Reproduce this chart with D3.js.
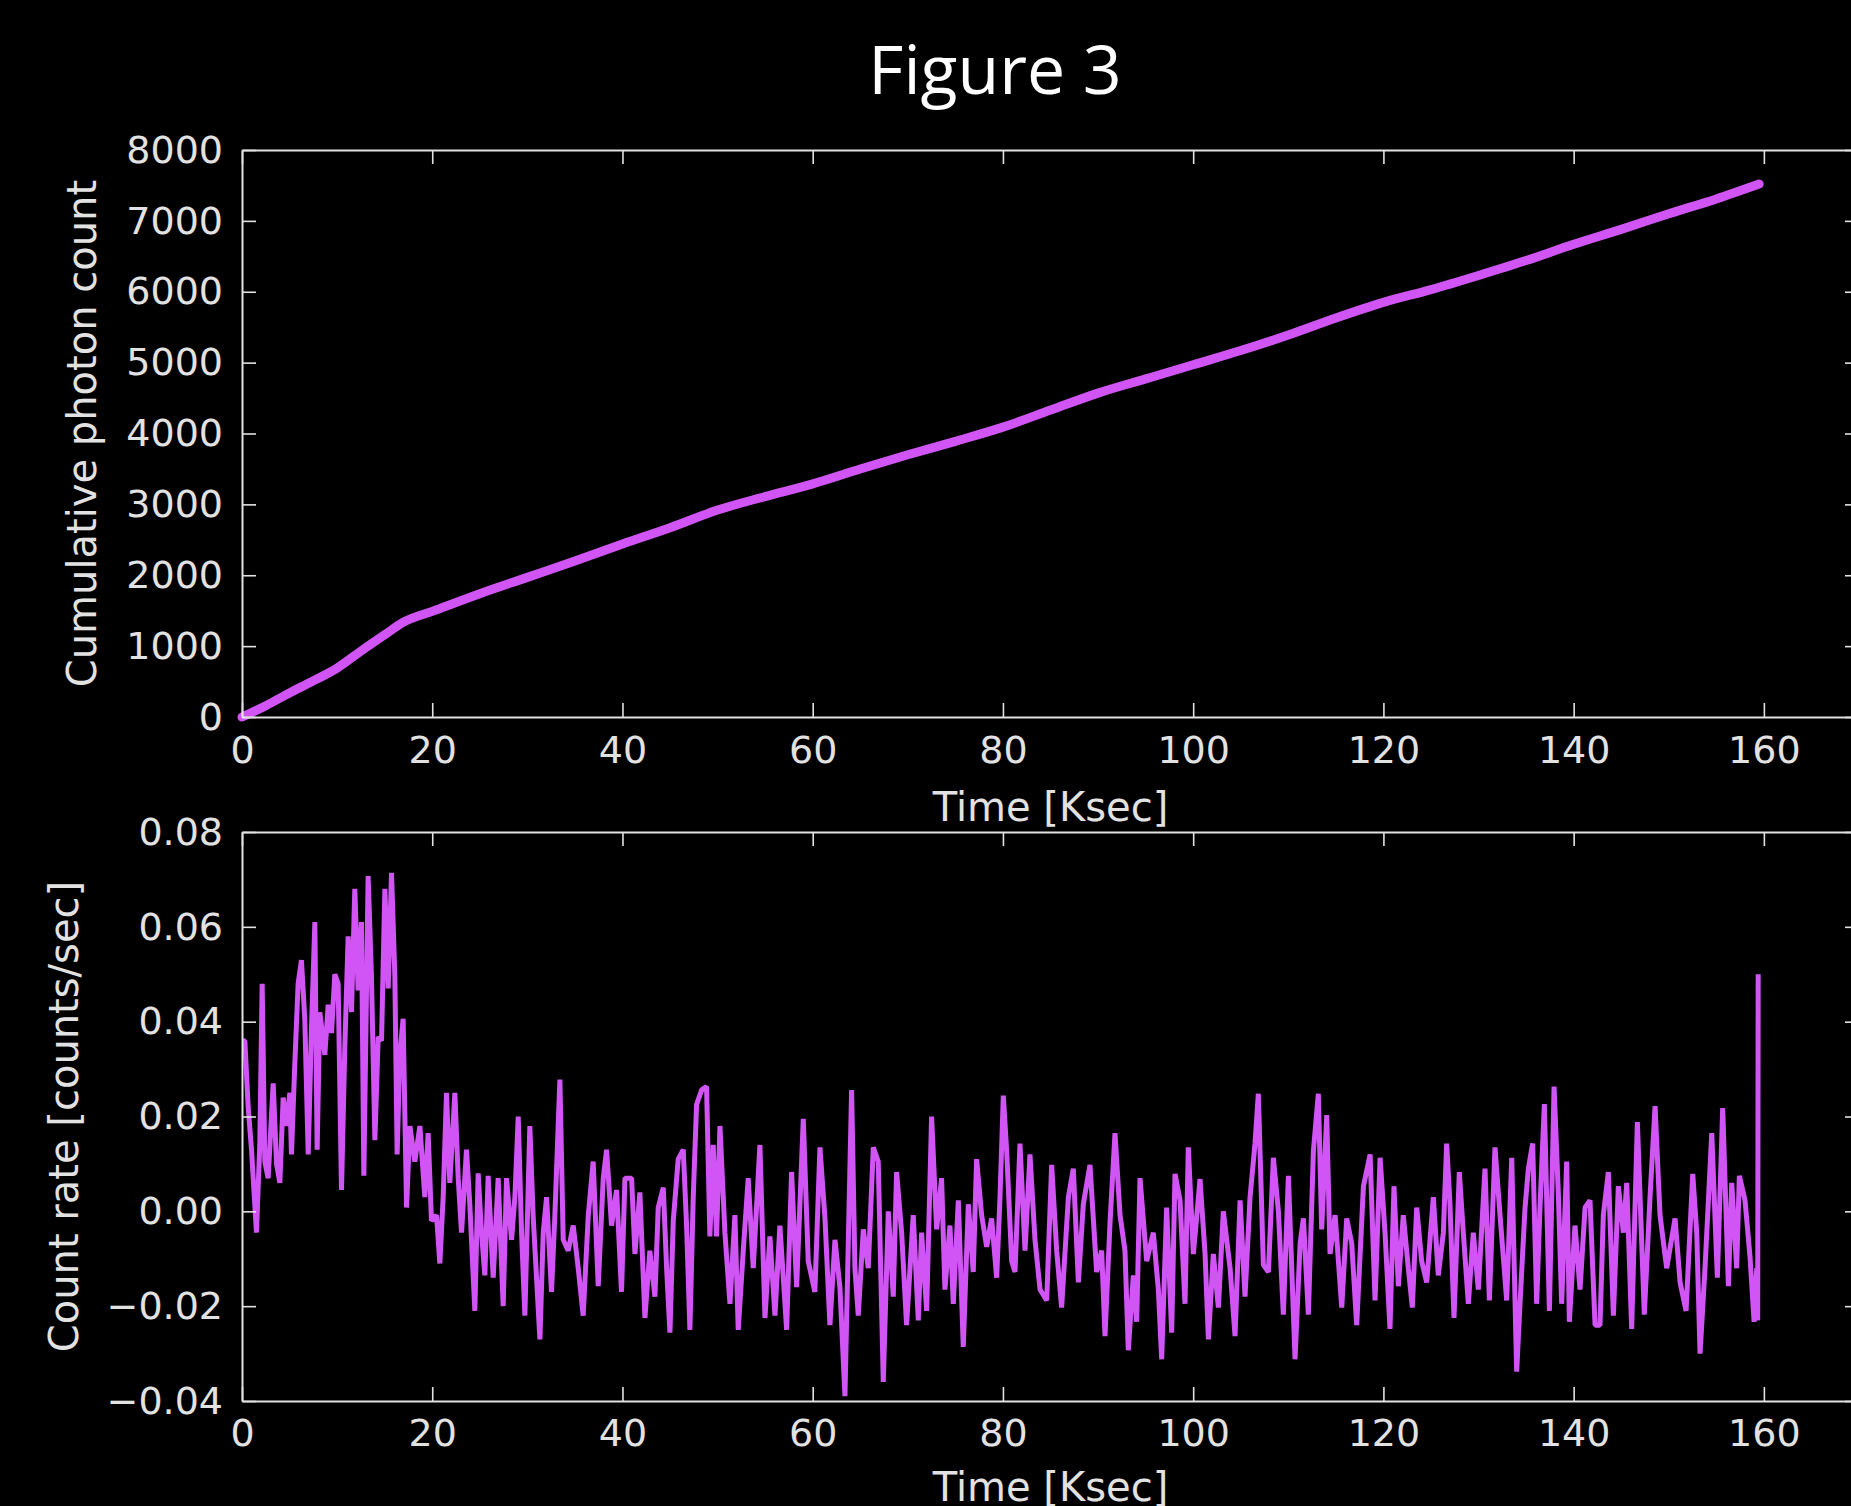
<!DOCTYPE html>
<html>
<head>
<meta charset="utf-8">
<script src="https://cdn.jsdelivr.net/npm/d3@7"></script>
<style>
  html, body { margin: 0; padding: 0; background: #000; }
  svg { display: block; }
</style>
</head>
<body>
<svg id="chart" width="1851" height="1506"></svg>
<script>
// ---------- data ----------
const titleText = "Figure 3";
const xLabel = "Time [Ksec]";
const yLabelTop = "Cumulative photon count";
const yLabelBottom = "Count rate [counts/sec]";

const xTicks = [0, 20, 40, 60, 80, 100, 120, 140, 160];
const yTicksTop = [0, 1000, 2000, 3000, 4000, 5000, 6000, 7000, 8000];
const yTicksBottom = [-0.04, -0.02, 0.00, 0.02, 0.04, 0.06, 0.08];

// cumulative photon count (top panel)
const cumTime = [0, 2.5, 5, 7.5, 10, 12.5, 15, 17, 20, 25, 30, 35, 40, 45, 50, 55, 60, 65, 70, 75, 80, 85, 90, 95, 100, 105, 110, 115, 120, 125, 130, 135, 140, 145, 150, 155, 159.5];
const cumCount = [0, 160, 340, 510, 690, 930, 1160, 1340, 1490, 1740, 1970, 2200, 2440, 2670, 2920, 3110, 3290, 3500, 3700, 3890, 4090, 4330, 4570, 4770, 4970, 5170, 5390, 5630, 5850, 6030, 6230, 6440, 6670, 6880, 7100, 7310, 7520];

// count rate (bottom panel)
const rateTime = [
  0.1, 0.30, 0.65, 1.0, 1.52, 1.87, 2.12, 2.40, 2.75, 3.28, 3.63, 3.98, 4.33, 4.68, 5.03, 5.20, 5.55, 5.90, 6.25, 6.60,
  6.96, 7.31, 7.66, 7.90, 8.18, 8.71, 9.06, 9.41, 9.76, 10.11, 10.46, 10.81, 11.16, 11.51, 11.86, 12.21, 12.56, 12.81, 13.26, 13.61,
  13.97, 14.32, 14.67, 15.02, 15.37, 15.72, 16.07, 16.31, 16.59, 16.94, 17.30, 17.65, 18.17, 18.70, 19.22, 19.57, 19.92, 20.45, 20.80, 21.15,
  21.50, 21.85, 22.38, 22.73, 23.08, 23.60, 23.95, 24.48, 24.83, 25.18, 25.53, 25.88, 26.41, 26.93, 27.46, 27.81, 28.34, 28.69, 29.04, 29.39,
  29.74, 30.26, 30.61, 31.32, 31.67, 32.02, 32.54, 32.89, 33.42, 33.77, 34.30, 34.82, 35.35, 35.87, 36.40, 36.92, 37.45, 37.98, 38.33, 38.85,
  39.38, 39.90, 40.26, 40.96, 41.31, 41.83, 42.36, 42.88, 43.41, 43.76, 44.29, 44.64, 44.99, 45.34, 45.86, 46.39, 46.74, 47.09, 47.44, 47.79,
  48.32, 48.84, 49.19, 49.54, 49.89, 50.25, 50.77, 51.30, 51.82, 52.17, 52.70, 53.22, 53.75, 54.45, 54.98, 55.50, 56.03, 56.55, 57.26, 57.78,
  58.31, 59.01, 59.53, 60.23, 60.76, 61.29, 61.81, 62.34, 62.86, 63.39, 63.74, 64.09, 64.44, 64.79, 65.32, 65.84, 66.37, 66.89, 67.42, 67.95,
  68.47, 68.82, 69.35, 69.87, 70.57, 71.10, 71.45, 71.98, 72.50, 73.03, 73.55, 73.90, 74.43, 74.78, 75.31, 75.83, 76.36, 76.88, 77.23, 77.76,
  78.29, 78.81, 79.34, 79.69, 80.04, 80.39, 80.92, 81.27, 81.79, 82.32, 82.84, 83.37, 83.90, 84.60, 85.12, 85.65, 86.17, 86.88, 87.40, 87.93,
  88.45, 89.15, 89.85, 90.38, 90.73, 91.26, 91.78, 92.31, 92.83, 93.18, 93.71, 94.06, 94.41, 95.11, 95.81, 96.34, 96.69, 97.21, 97.74, 98.09,
  98.62, 99.14, 99.49, 100.02, 100.72, 101.25, 101.60, 102.12, 102.65, 103.17, 103.88, 104.40, 104.93, 105.45, 105.98, 106.50, 106.85, 107.38, 107.91, 108.43,
  108.96, 109.48, 110.01, 110.36, 110.71, 111.24, 111.59, 112.11, 112.64, 113.16, 113.51, 114.04, 114.39, 114.92, 115.62, 116.14, 116.67, 117.19, 117.90, 118.60,
  119.12, 119.65, 120.17, 120.69, 121.11, 121.57, 122.09, 122.62, 123.04, 123.50, 124.02, 124.55, 125.25, 125.77, 126.30, 126.65, 127.00, 127.42, 127.98, 128.40,
  128.93, 129.45, 129.98, 130.68, 131.14, 131.73, 132.26, 132.96, 133.49, 134.01, 134.36, 134.89, 135.24, 135.69, 136.11, 136.46, 136.92, 137.45, 137.94, 138.39,
  138.74, 139.27, 139.55, 140.14, 140.67, 141.20, 141.72, 142.25, 142.77, 143.12, 143.65, 144.18, 144.70, 145.23, 145.58, 146.10, 146.70, 147.43, 148.03, 148.56,
  149.08, 149.78, 150.66, 151.19, 151.82, 152.52, 152.94, 153.29, 153.81, 154.52, 155.11, 155.67, 156.27, 156.62, 157.14, 157.42, 158.02, 158.55, 158.97, 159.25,
  159.35, 159.40
];
const rateValue = [
  0.0360, 0.0360, 0.0220, 0.0130, -0.0045, 0.0140, 0.0480, 0.0105, 0.0070, 0.0270, 0.0100, 0.0060, 0.0240, 0.0180, 0.0250, 0.0120, 0.0310, 0.0480, 0.0530, 0.0406,
  0.0120, 0.0390, 0.0610, 0.0130, 0.0420, 0.0330, 0.0436, 0.0376, 0.0500, 0.0480, 0.0045, 0.0346, 0.0580, 0.0420, 0.0680, 0.0466, 0.0610, 0.0075, 0.0707, 0.0496,
  0.0150, 0.0368, 0.0360, 0.0680, 0.0470, 0.0714, 0.0496, 0.0120, 0.0330, 0.0406, 0.0008, 0.0180, 0.0105, 0.0180, 0.0030, 0.0165, -0.0020, -0.0008, -0.0110, 0.0030,
  0.0250, 0.0060, 0.0250, 0.0070, -0.0045, 0.0130, 0.0015, -0.0210, 0.0080, -0.0045, -0.0135, 0.0075, -0.0140, 0.0070, -0.0200, 0.0070, -0.0060, 0.0030, 0.0200, -0.0045,
  -0.0220, 0.0180, -0.0010, -0.0270, -0.0045, 0.0030, -0.0170, -0.0010, 0.0278, -0.0060, -0.0083, -0.0030, -0.0120, -0.0220, -0.0010, 0.0105, -0.0158, 0.0070, 0.0130, -0.0030,
  0.0045, -0.0170, 0.0070, 0.0070, -0.0090, 0.0040, -0.0225, -0.0083, -0.0180, 0.0008, 0.0050, -0.0120, -0.0256, -0.0020, 0.0110, 0.0130, -0.0030, -0.0250, 0.0030, 0.0225,
  0.0256, 0.0263, -0.0053, 0.0140, -0.0053, 0.0180, -0.0045, -0.0195, -0.0008, -0.0250, -0.0083, 0.0070, -0.0120, 0.0140, -0.0225, -0.0053, -0.0220, -0.0030, -0.0250, 0.0083,
  -0.0160, 0.0195, -0.0105, -0.0170, 0.0135, -0.0015, -0.0240, -0.0060, -0.0160, -0.0390, -0.0068, 0.0256, -0.0120, -0.0220, -0.0038, -0.0120, 0.0135, 0.0105, -0.0360, 0.0000,
  -0.0180, 0.0083, -0.0045, -0.0240, -0.0008, -0.0230, -0.0045, -0.0210, 0.0200, -0.0038, 0.0070, -0.0165, -0.0030, -0.0195, 0.0023, -0.0286, 0.0015, -0.0128, 0.0110, -0.0008,
  -0.0075, -0.0015, -0.0140, 0.0030, 0.0244, 0.0128, -0.0105, -0.0128, 0.0143, -0.0083, 0.0120, -0.0060, -0.0165, -0.0188, 0.0098, -0.0083, -0.0203, 0.0030, 0.0090, -0.0150,
  0.0015, 0.0098, -0.0128, -0.0083, -0.0263, -0.0023, 0.0165, -0.0008, -0.0083, -0.0293, -0.0135, -0.0233, 0.0070, -0.0105, -0.0045, -0.0165, -0.0312, 0.0008, -0.0256, 0.0079,
  0.0023, -0.0195, 0.0135, -0.0090, 0.0068, -0.0090, -0.0270, -0.0090, -0.0203, 0.0000, -0.0120, -0.0263, 0.0023, -0.0180, 0.0030, 0.0143, 0.0248, -0.0113, -0.0128, 0.0113,
  0.0000, -0.0218, 0.0075, -0.0120, -0.0312, -0.0068, -0.0015, -0.0218, 0.0128, 0.0248, -0.0038, 0.0203, -0.0090, -0.0008, -0.0203, -0.0015, -0.0068, -0.0240, 0.0053, 0.0120,
  -0.0188, 0.0113, -0.0045, -0.0248, 0.0053, -0.0158, -0.0008, -0.0120, -0.0203, 0.0008, -0.0105, -0.0150, 0.0030, -0.0135, -0.0045, 0.0143, 0.0015, -0.0225, 0.0083, -0.0045,
  -0.0195, -0.0045, -0.0165, 0.0090, -0.0188, 0.0135, -0.0008, -0.0188, 0.0113, -0.0338, -0.0195, 0.0008, 0.0090, 0.0143, -0.0195, 0.0008, 0.0226, -0.0210, 0.0263, 0.0038,
  -0.0195, 0.0105, -0.0233, -0.0030, -0.0165, 0.0008, 0.0023, -0.0240, -0.0240, -0.0008, 0.0083, -0.0220, 0.0053, -0.0045, 0.0060, -0.0248, 0.0188, -0.0218, 0.0030, 0.0222,
  -0.0008, -0.0120, -0.0015, -0.0150, -0.0210, 0.0079, -0.0045, -0.0300, -0.0120, 0.0165, -0.0140, 0.0218, -0.0158, 0.0060, -0.0120, 0.0075, 0.0023, -0.0098, -0.0233, -0.0120,
  -0.0230, 0.0500
];

// ---------- layout ----------
const svg = d3.select("#chart");
const W = 1851, H = 1506;
svg.append("rect").attr("width", W).attr("height", H).attr("fill", "#000");

const lineColor = "#d055f4";
const fgColor = "#e2e2e2";
const tickFont = "'DejaVu Sans', sans-serif";

const left = 242, right = 1859;
const top1 = 150, bot1 = 717;
const top2 = 832, bot2 = 1401;

const x = d3.scaleLinear().domain([0, 170]).range([left, right]);
const yTop = d3.scaleLinear().domain([0, 8000]).range([bot1, top1]);
const yBot = d3.scaleLinear().domain([-0.04, 0.08]).range([bot2, top2]);

function fmtRate(d) {
  const s = Math.abs(d).toFixed(2);
  return (d < -1e-9 ? "\u2212" : "") + s;
}

function styleAxis(g, showText) {
  g.select(".domain").attr("stroke", fgColor).attr("stroke-width", 2);
  g.selectAll(".tick line").attr("stroke", fgColor).attr("stroke-width", 1.6);
  g.selectAll(".tick text")
    .attr("fill", fgColor)
    .style("font-family", tickFont)
    .style("font-size", "38px");
  if (!showText) g.selectAll(".tick text").remove();
}

function drawPanel(yScale, yTicks, yFmt, topY, botY, xPad) {
  const gB = svg.append("g").attr("transform", `translate(0,${botY})`)
    .call(d3.axisBottom(x).tickValues(xTicks).tickSizeInner(-14).tickSizeOuter(0).tickPadding(xPad).tickFormat(d3.format("d")));
  gB.attr("font-family", null).attr("font-size", null);
  styleAxis(gB, true);
  const gT = svg.append("g").attr("transform", `translate(0,${topY})`)
    .call(d3.axisTop(x).tickValues(xTicks).tickSizeInner(-14).tickSizeOuter(0).tickFormat(""));
  styleAxis(gT, false);
  const gL = svg.append("g").attr("transform", `translate(${left},0)`)
    .call(d3.axisLeft(yScale).tickValues(yTicks).tickSizeInner(-14).tickSizeOuter(0).tickPadding(19).tickFormat(yFmt));
  gL.attr("font-family", null).attr("font-size", null);
  styleAxis(gL, true);
  const gR = svg.append("g").attr("transform", `translate(${right},0)`)
    .call(d3.axisRight(yScale).tickValues(yTicks).tickSizeInner(-14).tickSizeOuter(0).tickFormat(""));
  styleAxis(gR, false);
}

// ---------- top panel ----------
const cumData = cumTime.map((t, i) => ({ t, v: cumCount[i] }));
svg.append("path")
  .datum(cumData)
  .attr("fill", "none")
  .attr("stroke", lineColor)
  .attr("stroke-width", 9)
  .attr("stroke-linecap", "round")
  .attr("stroke-linejoin", "round")
  .attr("d", d3.line().x(d => x(d.t)).y(d => yTop(d.v)).curve(d3.curveMonotoneX));

drawPanel(yTop, yTicksTop, d3.format("d"), top1, bot1, 19);

// ---------- bottom panel ----------
const rateData = rateTime.map((t, i) => ({ t, v: rateValue[i] }));
svg.append("path")
  .datum(rateData)
  .attr("fill", "none")
  .attr("stroke", lineColor)
  .attr("stroke-width", 5)
  .attr("stroke-linejoin", "bevel")
  .attr("d", d3.line().x(d => x(d.t)).y(d => yBot(d.v)).curve(d3.curveLinear));

drawPanel(yBot, yTicksBottom, fmtRate, top2, bot2, 18);

// ---------- labels ----------
svg.append("text")
  .attr("x", 995).attr("y", 94)
  .attr("text-anchor", "middle")
  .attr("fill", "#ffffff")
  .style("font-family", "'Open Sans', sans-serif")
  .style("font-size", "68px")
  .text(titleText);

const labelStyle = sel => sel.attr("fill", fgColor)
  .style("font-family", tickFont).style("font-size", "40px");

svg.append("text").attr("x", (left + right) / 2).attr("y", 821)
  .attr("text-anchor", "middle").call(labelStyle).text(xLabel);
svg.append("text").attr("x", (left + right) / 2).attr("y", 1501)
  .attr("text-anchor", "middle").call(labelStyle).text(xLabel);

svg.append("text")
  .attr("transform", `translate(96,${(top1 + bot1) / 2}) rotate(-90)`)
  .attr("text-anchor", "middle").call(labelStyle).text(yLabelTop);
svg.append("text")
  .attr("transform", `translate(78,${(top2 + bot2) / 2}) rotate(-90)`)
  .attr("text-anchor", "middle").call(labelStyle).text(yLabelBottom);
</script>
</body>
</html>
